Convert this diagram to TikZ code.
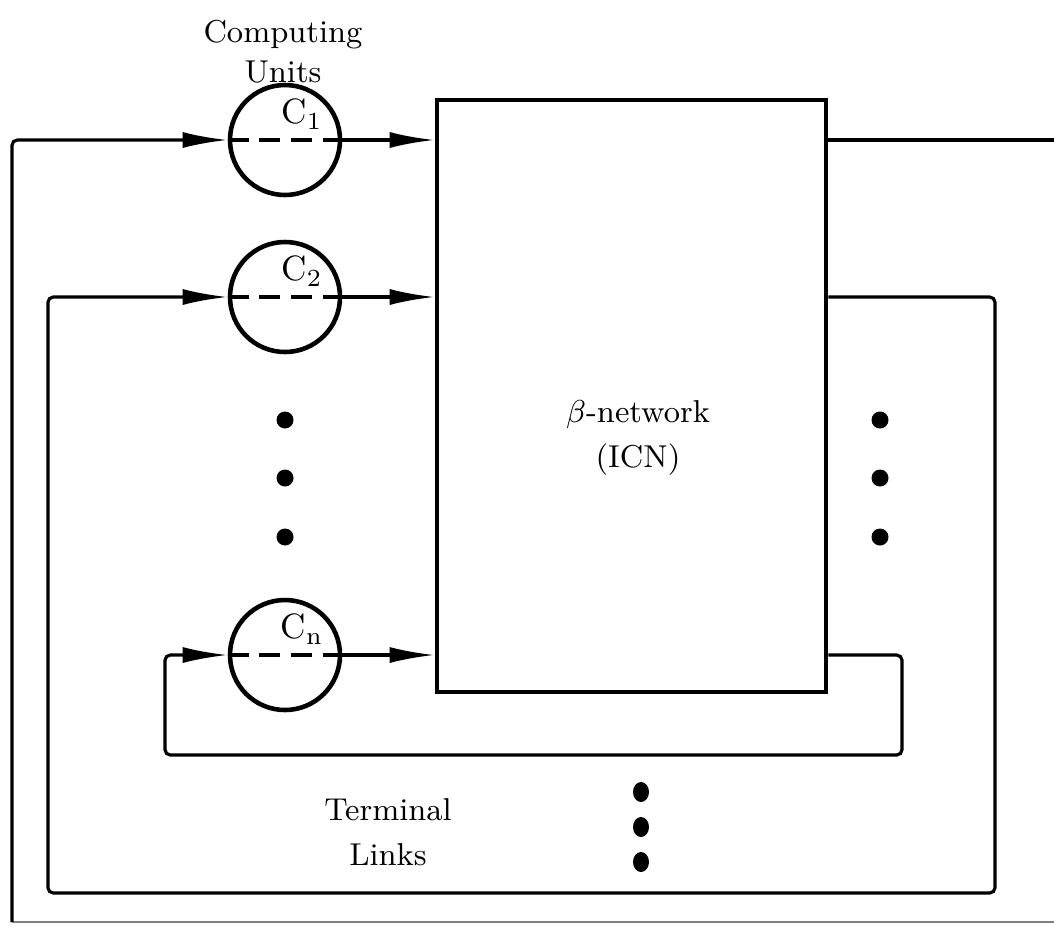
\documentclass[tikz,border=0pt]{standalone}
\usepackage{fontspec}
\usetikzlibrary{arrows.meta,positioning}

\tikzset{
  unit/.style={draw, circle, line width=1.3pt, minimum size=1.1cm, inner sep=0pt},
  netbox/.style={draw, line width=1.3pt, minimum width=3.89cm, minimum height=5.92cm, inner sep=0pt},
  link/.style={line width=0.9pt},
  flow/.style={line width=0.9pt, rounded corners=1.5pt, -{Latex[length=4.5mm,width=1.6mm]}},
  lbl/.style={font=\small\addfontfeature{LetterSpace=8}},
  sublbl/.style={font=\normalsize},
  bigdot/.style={fill=black}
}

\begin{document}
\begin{tikzpicture}
        \useasboundingbox (0,0) rectangle (10.54,-9.32);

        % Interconnection network
        \node[netbox] (icn) at (6.315,-3.96) {};
        \node[lbl] (net) at (6.38,-4.15) {$\beta$-network};
        \node[lbl] (icnlbl) at (6.38,-4.60) {(ICN)};

        % Computing units
        \node[lbl] (comp) at (2.83,-0.35) {Computing};
        \node[lbl] (units) at (2.83,-0.72) {Units};
        \node[unit] (c1) at (2.85,-1.40) {};
        \node[unit] (c2) at (2.85,-2.97) {};
        \node[unit] (cn) at (2.85,-6.55) {};
        \node[sublbl] at (3.02,-1.14) {C$_{\mathrm{1}}$};
        \node[sublbl] at (3.02,-2.71) {C$_{\mathrm{2}}$};
        \node[sublbl] at (3.02,-6.29) {C$_{\mathrm{n}}$};
        \foreach \c in {c1,c2,cn}
          \draw[line width=1pt, dash pattern=on 6pt off 3pt] (\c.west) -- (\c.east);

        % Units into the network
        \foreach \c in {c1,c2,cn}
          \draw[flow] (\c.east) -- (\c.east -| icn.west);

        % Terminal links (feedback loops)
        \coordinate (r1) at (10.54,-1.40);
        \coordinate (b1) at (10.54,-9.22);
        \coordinate (l1) at (0.12,-9.22);
        \draw[link] (icn.east |- c1) -- (r1);
        \draw[line width=0.6pt, black!50] (b1) -- (l1);
        \draw[flow] (l1) -- (l1 |- c1) -- (c1.west);

        \coordinate (r2) at (9.95,-2.97);
        \coordinate (b2) at (9.95,-8.93);
        \coordinate (l2) at (0.48,-8.93);
        \draw[flow] (icn.east |- c2) -- (r2) -- (b2) -- (l2) -- (l2 |- c2) -- (c2.west);

        \coordinate (rn) at (9.02,-6.55);
        \coordinate (bn) at (9.02,-7.55);
        \coordinate (ln) at (1.65,-7.55);
        \draw[flow] (icn.east |- cn) -- (rn) -- (bn) -- (ln) -- (ln |- cn) -- (cn.west);

        % Dots
        \foreach \y in {-4.20,-4.78,-5.37} {
          \fill[bigdot] (2.85,\y) circle (0.085);
          \fill[bigdot] (8.80,\y) circle (0.085);
        }
        \foreach \y in {-7.92,-8.27,-8.62}
          \fill[bigdot] (6.41,\y) ellipse (0.08 and 0.1);

        % Labels
        \node[lbl] (term) at (3.88,-8.10) {Terminal};
        \node[lbl] (links) at (3.88,-8.55) {Links};
    \end{tikzpicture}
\end{document}
